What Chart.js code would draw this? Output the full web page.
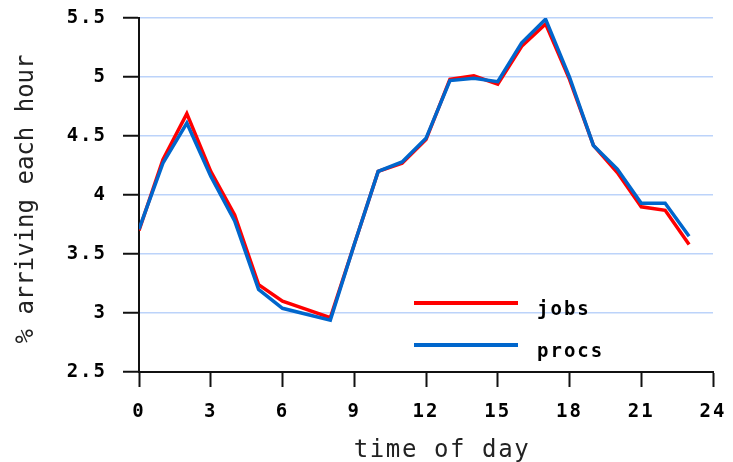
<!DOCTYPE html>
<html>
<head>
<meta charset="utf-8">
<script src="https://cdn.jsdelivr.net/npm/chart.js@4/dist/chart.umd.min.js"></script>
<style>
  html, body { margin: 0; padding: 0; background: #fff; }
  #wrap { width: 733px; height: 462px; }
</style>
</head>
<body>
<div id="wrap"><canvas id="myChart" width="733" height="462"></canvas></div>
<script>
// hour of the day
var hours = [0, 1, 2, 3, 4, 5, 6, 7, 8, 9, 10, 11, 12, 13, 14, 15, 16, 17, 18, 19, 20, 21, 22, 23];
// % of jobs / procs arriving in each hour
var jobs = [3.70, 4.30, 4.69, 4.20, 3.83, 3.24, 3.10, 3.03, 2.96, 3.58, 4.20, 4.27,
            4.47, 4.98, 5.01, 4.94, 5.26, 5.45, 4.98, 4.42, 4.19, 3.90, 3.87, 3.58];
var procs = [3.71, 4.27, 4.61, 4.16, 3.78, 3.20, 3.04, 2.99, 2.94, 3.58, 4.20, 4.28,
             4.48, 4.97, 4.99, 4.96, 5.29, 5.49, 5.00, 4.42, 4.22, 3.93, 3.93, 3.65];
var xTicks = [0, 3, 6, 9, 12, 15, 18, 21, 24];
var yTicks = [2.5, 3, 3.5, 4, 4.5, 5, 5.5];
var seriesNames = ["jobs", "procs"];
var seriesColors = ["#ff0000", "#0066cc"];

function toPoints(values) {
    var pts = [];
    for (var i = 0; i < hours.length; i++) {
        pts.push({ x: hours[i], y: values[i] });
    }
    return pts;
}

var tickFont = { family: "'DejaVu Sans Mono'", size: 19, weight: "bold" };
var spacing = "2px";

// no extra room for label overflow, the plot box is fixed by layout.padding
function noOverflow(scale) {
    scale.paddingTop = 0;
    scale.paddingBottom = 0;
    scale.paddingLeft = 0;
    scale.paddingRight = 0;
}

// axis titles + legend drawn inside the plot, like the original
var annotate = {
    id: "annotate",
    beforeLayout: function (chart) { chart.ctx.letterSpacing = spacing; },
    beforeDraw: function (chart) { chart.ctx.letterSpacing = spacing; },
    afterDraw: function (chart) {
        var ctx = chart.ctx;
        ctx.save();
        ctx.fillStyle = "#222";
        ctx.font = "24px 'DejaVu Sans Mono'";
        ctx.textBaseline = "alphabetic";

        // x title
        ctx.letterSpacing = "1.6px";
        ctx.textAlign = "center";
        ctx.fillText("time of day", 442, 457);

        // y title
        ctx.letterSpacing = "0px";
        ctx.save();
        ctx.translate(33, 199);
        ctx.rotate(-Math.PI / 2);
        ctx.fillText("% arriving each hour", 0, 0);
        ctx.restore();

        // legend
        ctx.letterSpacing = spacing;
        ctx.font = "bold 19px 'DejaVu Sans Mono'";
        ctx.textAlign = "left";
        ctx.fillStyle = "#000";
        for (var i = 0; i < seriesNames.length; i++) {
            var ly = 303 + i * 42;
            ctx.strokeStyle = seriesColors[i];
            ctx.lineWidth = 4;
            ctx.beginPath();
            ctx.moveTo(414, ly);
            ctx.lineTo(518, ly);
            ctx.stroke();
            ctx.fillText(seriesNames[i], 537, ly + 12);
        }
        ctx.restore();
    }
};

var ctx = document.getElementById("myChart").getContext("2d");
var chart = new Chart(ctx, {
    type: "line",
    data: {
        datasets: [{
            label: seriesNames[0],
            data: toPoints(jobs),
            borderColor: seriesColors[0],
            borderWidth: 3.5,
            pointRadius: 0,
            tension: 0,
            order: 2
        }, {
            label: seriesNames[1],
            data: toPoints(procs),
            borderColor: seriesColors[1],
            borderWidth: 3.5,
            pointRadius: 0,
            tension: 0,
            order: 1
        }]
    },
    options: {
        responsive: false,
        animation: false,
        events: [],
        layout: { padding: { top: 18, right: 20, left: 0, bottom: 0 } },
        plugins: {
            legend: { display: false },
            tooltip: { enabled: false }
        },
        scales: {
            x: {
                type: "linear",
                min: 0,
                max: 24,
                afterBuildTicks: function (scale) {
                    scale.ticks = xTicks.map(function (v) { return { value: v }; });
                },
                afterFit: function (scale) { scale.height = 90; noOverflow(scale); },
                grid: {
                    drawOnChartArea: false,
                    tickLength: 15,
                    tickColor: "#111",
                    tickWidth: 2
                },
                border: { color: "#111", width: 2 },
                ticks: {
                    color: "#000", font: tickFont, padding: 14, maxRotation: 0,
                    callback: function (v) { return String(v); }
                }
            },
            y: {
                min: 2.5,
                max: 5.5,
                afterBuildTicks: function (scale) {
                    scale.ticks = yTicks.map(function (v) { return { value: v }; });
                },
                afterFit: function (scale) { scale.width = 139; noOverflow(scale); },
                grid: {
                    color: "#bcd3fa",
                    lineWidth: 1.5,
                    tickLength: 16,
                    tickColor: "#111",
                    tickWidth: 2
                },
                border: { color: "#111", width: 2 },
                ticks: {
                    color: "#000", font: tickFont, padding: 16,
                    callback: function (v) { return String(v); }
                }
            }
        }
    },
    plugins: [annotate]
});
</script>
</body>
</html>
